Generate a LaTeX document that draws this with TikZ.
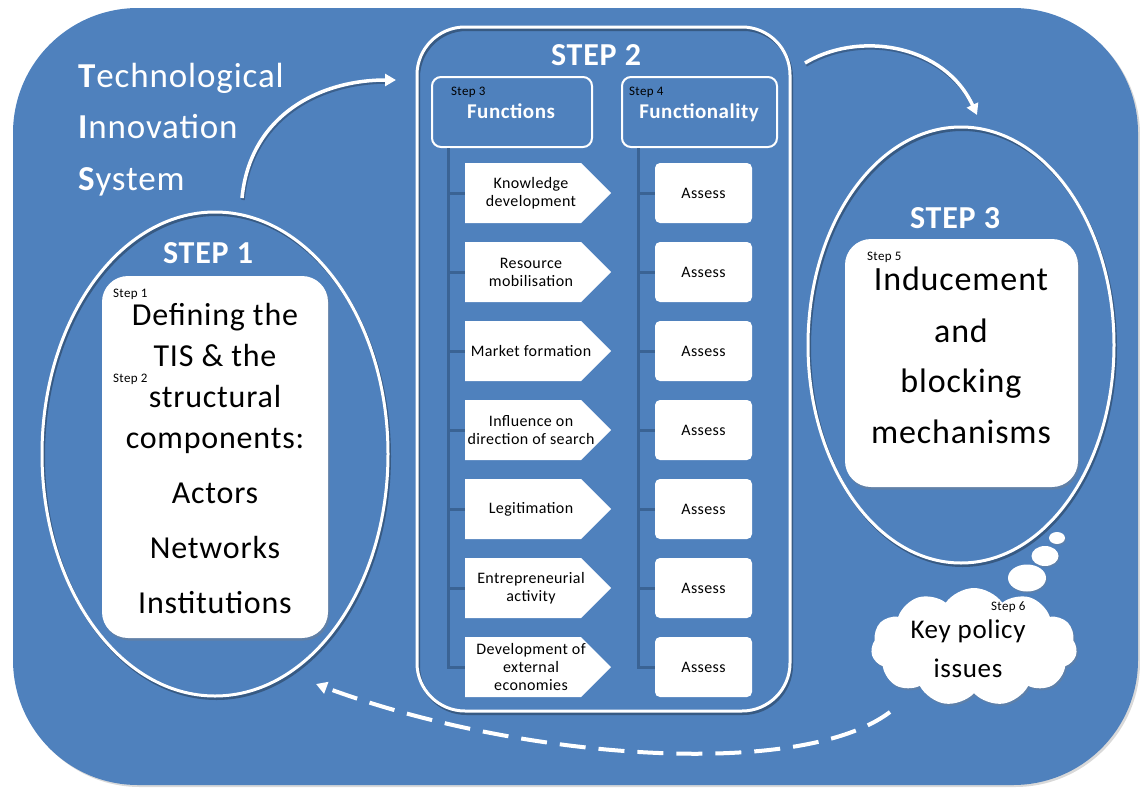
\documentclass[tikz,border=0pt]{standalone}
\usepackage{fontspec}
\setmainfont{Carlito}[LetterSpace=2.5]
\usetikzlibrary{shapes.geometric,shapes.symbols,arrows.meta,shadows,calc}
\definecolor{tisblue}{RGB}{79,129,189}
\definecolor{trunkblue}{RGB}{58,99,148}
\begin{document}
\begin{tikzpicture}[x=1pt,y=-1pt,
  ring/.style={ellipse,draw=white,line width=3pt,inner sep=0pt},
  ringshade/.style={ellipse,draw=black,opacity=.3,line width=3pt,inner sep=0pt},
  whitebox/.style={rectangle,fill=white,inner sep=0pt,
    drop shadow={opacity=.35,shadow xshift=1.5pt,shadow yshift=-2.5pt}},
  header/.style={rectangle,draw=white,line width=2pt,rounded corners=9pt,
    minimum height=70pt,inner sep=0pt},
  assessbox/.style={rectangle,fill=white,rounded corners=5pt,minimum width=97pt,
    minimum height=60pt,inner sep=0pt,font=\fontsize{16}{18}\selectfont},
  fntext/.style={align=center,inner sep=0pt,font=\fontsize{16}{18}\selectfont},
  trunk/.style={draw=trunkblue,line width=3pt},
  steplabel/.style={anchor=base,text=white,font=\fontsize{32}{38}\selectfont\bfseries},
  tiny/.style={anchor=base west,inner sep=0pt,font=\fontsize{13}{15}\selectfont},
  bigtext/.style={anchor=base,inner sep=0pt},
  titletext/.style={anchor=base west,text=white,inner sep=0pt,
    font=\fontsize{35}{42}\selectfont},
  flow/.style={draw=white,line width=3.5pt,-{Triangle[length=11pt,width=12pt]}},
  flowshade/.style={draw=black,opacity=.25,line width=3.5pt},
  bubble/.style={ellipse,fill=white,inner sep=0pt,
    drop shadow={opacity=.3,shadow xshift=1pt,shadow yshift=-1.5pt}},
]
\useasboundingbox (0,0) rectangle (1140,787);

% background panel
\fill[tisblue, drop shadow={opacity=.3,shadow xshift=2pt,shadow yshift=-2pt}]
  (13,8) [rounded corners=125pt] rectangle (1138,785);

% title
\node[titletext] (t1) at (78,87) {\textbf{T}echnological};
\node[titletext] (t2) at (78,138) {\textbf{I}nnovation};
\node[titletext] (t3) at (78,190) {\textbf{S}ystem};

% ---------- STEP 1 ----------
\node[ringshade,minimum width=346pt,minimum height=484pt] at (216.5,456.5) {};
\node[ring,minimum width=346pt,minimum height=484pt] (s1) at (215,454) {};
\node[steplabel] (s1lab) at (208,263) {STEP 1};
\node[whitebox,rounded corners=26pt,minimum width=226pt,minimum height=362pt]
  (s1box) at (215,457) {};
\node[tiny] (s1a) at (113,297) {Step 1};
\node[tiny] (s1b) at (113,382) {Step 2};
\begin{scope}[every node/.style={bigtext,font=\fontsize{32}{38}\selectfont}]
  \node (l1) at (215,325) {Defining the};
  \node (l2) at (215,366) {TIS \& the};
  \node (l3) at (215,407) {structural};
  \node (l4) at (215,448) {components:};
  \node (l5) at (215,503) {Actors};
  \node (l6) at (215,558) {Networks};
  \node (l7) at (215,613) {Institutions};
\end{scope}

% ---------- STEP 2 ----------
\node[rectangle,draw=black,opacity=.3,line width=3pt,rounded corners=48pt,
  minimum width=373pt,minimum height=684pt] at (605,371.5) {};
\node[rectangle,draw=white,line width=3pt,rounded corners=48pt,
  minimum width=373pt,minimum height=684pt] (s2) at (603.5,369) {};
\node[steplabel] (s2lab) at (596,65) {STEP 2};

\node[header,minimum width=160pt] (hf) at (512,112) {};
\node[header,minimum width=155pt] (hq) at (699.5,112) {};
\node[tiny] (s3a) at (451,95) {Step 3};
\node[tiny] (s4a) at (629,95) {Step 4};
\node[anchor=base,text=white,inner sep=0pt,font=\fontsize{21}{24}\selectfont\bfseries]
  (hft) at (511,118) {Functions};
\node[anchor=base,text=white,inner sep=0pt,font=\fontsize{21}{24}\selectfont\bfseries]
  (hqt) at (699,118) {Functionality};

% trunks of the two columns
\coordinate (fl7) at (470,667);
\coordinate (ql7) at (656,667);
\draw[trunk] (hf.south west -| 448,0) |- (fl7);
\draw[trunk] (hq.south west -| 638,0) |- (ql7);

% function arrows and their assessments
\foreach \i/\yy/\txt in {
  1/193/{Knowledge\\development},
  2/272/{Resource\\mobilisation},
  3/351/{Market formation},
  4/430/{Influence on\\direction of search},
  5/509/{Legitimation},
  6/588/{Entrepreneurial\\activity},
  7/667/{Development of\\external\\economies}} {
  \coordinate (fl\i) at (465,\yy);
  \draw[trunk] (448,\yy) -- (fl\i);
  \fill[white] (fl\i) ++(0,-30) -- ++(116,0) -- ++(30,30) -- ++(-30,30)
    -- ++(-116,0) -- cycle;
  \node[fntext] (f\i) at (531,\yy) {\txt};
  \node[assessbox] (a\i) at (703.5,\yy) {Assess};
  \draw[trunk] (638,\yy) -- (a\i.west);
}

% ---------- STEP 3 ----------
\node[ringshade,minimum width=306pt,minimum height=436pt] at (962.5,347.5) {};
\node[ring,minimum width=306pt,minimum height=436pt] (s3) at (961,345) {};
\node[steplabel] (s3lab) at (955,228) {STEP 3};
\node[whitebox,rounded corners=26pt,minimum width=233pt,minimum height=248pt]
  (s3box) at (961.5,363) {};
\node[tiny] (s5a) at (867,260) {Step 5};
\begin{scope}[every node/.style={bigtext,font=\fontsize{34}{40}\selectfont}]
  \node (m1) at (961,290) {Inducement};
  \node (m2) at (961,342) {and};
  \node (m3) at (961,392) {blocking};
  \node (m4) at (961,443) {mechanisms};
\end{scope}

% ---------- thought cloud ----------
\node[bubble,minimum width=16pt,minimum height=12pt] (b1) at (1057,538) {};
\node[bubble,minimum width=27pt,minimum height=20pt] (b2) at (1045,556) {};
\node[bubble,minimum width=38pt,minimum height=27pt] (b3) at (1027,578) {};
\node[cloud,cloud puffs=11,cloud puff arc=110,aspect=1.75,fill=white,
  minimum width=206pt,minimum height=118pt,inner sep=0pt,
  drop shadow={opacity=.3,shadow xshift=1.5pt,shadow yshift=-2pt}] (kp) at (974,647) {};
\node[tiny] (s6a) at (991,610) {Step 6};
\node[bigtext,font=\fontsize{27}{32}\selectfont] (k1) at (968,638) {Key policy};
\node[bigtext,font=\fontsize{27}{32}\selectfont] (k2) at (968,677) {issues};

% ---------- flow arrows ----------
\coordinate (a1s) at (242,198);
\coordinate (a1e) at (396,80);
\coordinate (a2s) at (805,63);
\coordinate (a2e) at (977,115);
\coordinate (a3s) at (890,712);
\coordinate (a3e) at (316,684);
\draw[flowshade,transform canvas={xshift=1pt,yshift=-2pt}]
  (a1s) .. controls (250,115) and (320,80) .. (386,80);
\draw[flow] (a1s) .. controls (250,115) and (320,80) .. (a1e);
\draw[flowshade,transform canvas={xshift=1pt,yshift=-2pt}]
  (a2s) .. controls (860,30) and (945,45) .. (973,106);
\draw[flow] (a2s) .. controls (860,30) and (945,45) .. (a2e);
\draw[flow,dash pattern=on 26pt off 13pt,line width=4pt]
  (a3s) .. controls (800,780) and (520,760) .. (a3e);
\end{tikzpicture}
\end{document}
